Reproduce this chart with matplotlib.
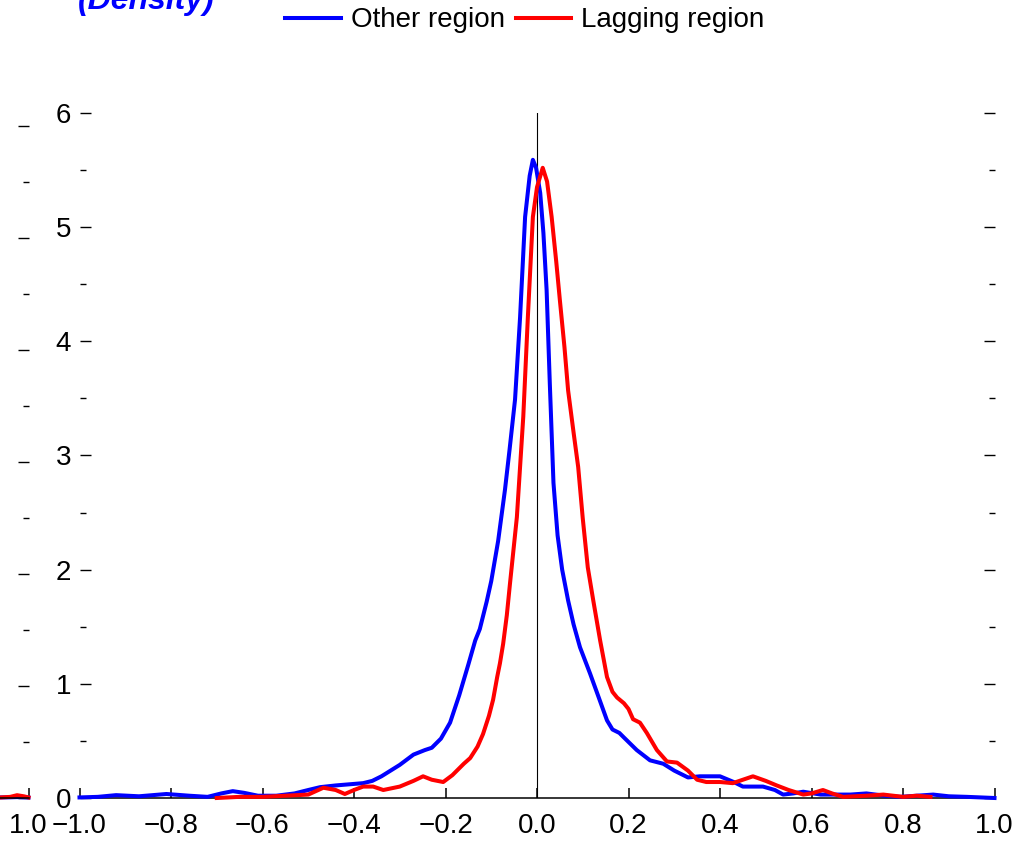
import matplotlib
matplotlib.use("Agg")
import matplotlib.pyplot as plt
from matplotlib.ticker import MultipleLocator

plt.rcParams['font.family'] = ['Liberation Sans', 'DejaVu Sans']

# Kernel density of the gap measure, by region type
other_x = [-1.00, -0.96, -0.92, -0.87, -0.81, -0.76, -0.72, -0.69, -0.665, -0.64,
           -0.61, -0.57, -0.53, -0.50, -0.474, -0.44, -0.41, -0.38, -0.36, -0.34,
           -0.30, -0.27, -0.245, -0.23, -0.21, -0.19, -0.17, -0.15, -0.135, -0.125,
           -0.11, -0.10, -0.085, -0.07, -0.06, -0.048, -0.037, -0.026, -0.016, -0.009,
           -0.002, 0.007, 0.014, 0.021, 0.028, 0.036, 0.045, 0.055, 0.068, 0.08,
           0.094, 0.116, 0.135, 0.153, 0.165, 0.18, 0.19, 0.218, 0.247, 0.276,
           0.30, 0.33, 0.356, 0.40, 0.43, 0.45, 0.494, 0.52, 0.538, 0.56,
           0.582, 0.62, 0.685, 0.72, 0.76, 0.794, 0.83, 0.866, 0.90, 0.94, 1.00]
other_density = [0.005, 0.01, 0.025, 0.015, 0.035, 0.02, 0.01, 0.04, 0.06, 0.045,
                 0.02, 0.02, 0.04, 0.07, 0.095, 0.11, 0.12, 0.13, 0.15, 0.19,
                 0.29, 0.38, 0.42, 0.44, 0.52, 0.66, 0.90, 1.17, 1.38, 1.48,
                 1.72, 1.90, 2.25, 2.70, 3.05, 3.49, 4.21, 5.09, 5.45, 5.59,
                 5.52, 5.30, 4.95, 4.45, 3.63, 2.76, 2.30, 2.00, 1.73, 1.52,
                 1.32, 1.09, 0.88, 0.68, 0.60, 0.57, 0.53, 0.42, 0.33, 0.30,
                 0.24, 0.18, 0.19, 0.19, 0.14, 0.10, 0.10, 0.07, 0.03, 0.04,
                 0.055, 0.03, 0.03, 0.04, 0.02, 0.01, 0.02, 0.03, 0.015, 0.01, 0.0]

lagging_x = [-0.70, -0.65, -0.60, -0.55, -0.50, -0.467, -0.44, -0.42, -0.40, -0.38,
             -0.358, -0.336, -0.30, -0.27, -0.249, -0.23, -0.205, -0.185, -0.16, -0.146,
             -0.13, -0.118, -0.105, -0.096, -0.087, -0.081, -0.074, -0.066, -0.059, -0.044,
             -0.03, -0.02, -0.009, 0.0, 0.0125, 0.022, 0.032, 0.042, 0.05, 0.06,
             0.068, 0.08, 0.09, 0.10, 0.111, 0.123, 0.138, 0.153, 0.165, 0.175,
             0.19, 0.20, 0.21, 0.225, 0.24, 0.262, 0.284, 0.306, 0.33, 0.35,
             0.37, 0.40, 0.428, 0.45, 0.472, 0.50, 0.524, 0.55, 0.582, 0.60,
             0.625, 0.645, 0.669, 0.72, 0.757, 0.80, 0.83, 0.86]
lagging_density = [0.0, 0.01, 0.01, 0.02, 0.03, 0.09, 0.07, 0.035, 0.07, 0.10,
                   0.10, 0.07, 0.10, 0.15, 0.19, 0.16, 0.14, 0.20, 0.30, 0.35,
                   0.45, 0.56, 0.72, 0.86, 1.06, 1.18, 1.35, 1.60, 1.88, 2.46,
                   3.34, 4.21, 5.09, 5.35, 5.52, 5.40, 5.09, 4.70, 4.36, 3.95,
                   3.57, 3.20, 2.90, 2.45, 2.02, 1.73, 1.38, 1.06, 0.93, 0.88,
                   0.83, 0.78, 0.69, 0.66, 0.57, 0.42, 0.32, 0.31, 0.24, 0.16,
                   0.14, 0.14, 0.13, 0.16, 0.19, 0.15, 0.11, 0.07, 0.03, 0.04,
                   0.07, 0.04, 0.01, 0.02, 0.03, 0.01, 0.02, 0.01]

# Right-hand tail of the neighbouring panel
prev_x = [0.90, 0.94, 0.96, 0.975, 0.99, 1.00]
prev_other = [0.005, 0.005, 0.006, 0.008, 0.006, 0.004]
prev_lagging = [0.0, 0.005, 0.01, 0.025, 0.015, 0.005]

x_ticks = [-1.0, -0.8, -0.6, -0.4, -0.2, 0.0, 0.2, 0.4, 0.6, 0.8, 1.0]
x_tick_labels = ['\u22121.0', '\u22120.8', '\u22120.6', '\u22120.4', '\u22120.2',
                 '0.0', '0.2', '0.4', '0.6', '0.8', '1.0']
y_ticks = [0, 1, 2, 3, 4, 5, 6]

BLUE = '#0000FF'
RED = '#FF0000'
FS = 20
LW = 2.9

fig = plt.figure(figsize=(10.15, 8.43), dpi=100)


def style_axes(ax, ylim_top):
    ax.set_xlim(-1.0, 1.0)
    ax.set_ylim(0, ylim_top)
    for side in ('top', 'left', 'right'):
        ax.spines[side].set_visible(False)
    ax.spines['bottom'].set_linewidth(1.1)
    ax.set_xticks(x_ticks)
    ax.set_xticklabels(x_tick_labels)
    ax.set_yticks(y_ticks)
    ax.yaxis.set_minor_locator(MultipleLocator(0.5))
    ax.tick_params(axis='x', which='major', direction='in', length=7, width=1.1,
                   labelsize=FS, pad=11)
    ax.tick_params(axis='y', which='major', direction='in', length=8, width=1.0,
                   left=True, right=True, labelsize=FS, pad=6)
    ax.tick_params(axis='y', which='minor', direction='in', length=4, width=1.0,
                   left=True, right=True)
    ax.patch.set_alpha(0)


# neighbouring panel, mostly off the left edge
ax_prev = fig.add_axes([(28.5 - 915) / 1015, 45 / 843, 915 / 1015, 672 / 843])
style_axes(ax_prev, 6)
ax_prev.plot(prev_x, prev_other, color=BLUE, lw=LW, clip_on=False)
ax_prev.plot(prev_x, prev_lagging, color=RED, lw=LW, clip_on=False)

# main panel
ax = fig.add_axes([79.5 / 1015, 45 / 843, 915 / 1015, 685 / 843])
style_axes(ax, 6)
ax.axvline(0, color='black', lw=0.8, zorder=1)
l1, = ax.plot(other_x, other_density, color=BLUE, lw=LW, clip_on=False,
              label='Other region', zorder=3, solid_joinstyle='round')
l2, = ax.plot(lagging_x, lagging_density, color=RED, lw=LW, clip_on=False,
              label='Lagging region', zorder=3, solid_joinstyle='round')

fig.legend(handles=[l1, l2], loc='center', bbox_to_anchor=(0.517, 0.976),
           ncol=2, frameon=False, fontsize=FS, handlelength=2.0,
           handletextpad=0.35, columnspacing=0.4, borderpad=0)

fig.text(78 / 1015, 1 - 9 / 843, '(Density)', color=BLUE, fontsize=23,
         fontweight='bold', fontstyle='italic', ha='left', va='baseline')

fig.savefig('out.png', dpi=100)
